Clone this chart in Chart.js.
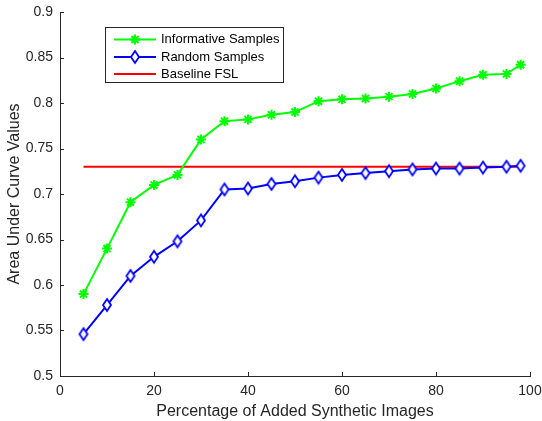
<!DOCTYPE html>
<html>
<head>
<meta charset="utf-8">
<script src="https://cdn.jsdelivr.net/npm/chart.js@4.4.1/dist/chart.umd.min.js"></script>
<style>
  html, body { margin: 0; padding: 0; background: #fff; }
  #wrap { width: 542px; height: 421px; position: relative; }
</style>
</head>
<body>
<div id="wrap"><canvas id="c" width="542" height="421"></canvas></div>
<script>
// ---- data ----
const xPct = [5, 10, 15, 20, 25, 30, 35, 40, 45, 50, 55, 60, 65, 70, 75, 80, 85, 90, 95, 98];
const informative = [0.590, 0.640, 0.691, 0.710, 0.721, 0.760, 0.780, 0.782, 0.787, 0.790, 0.802, 0.804, 0.805, 0.807, 0.810, 0.816, 0.824, 0.831, 0.832, 0.842];
const randomSamples = [0.546, 0.578, 0.610, 0.631, 0.648, 0.671, 0.705, 0.706, 0.711, 0.714, 0.718, 0.721, 0.723, 0.725, 0.727, 0.728, 0.728, 0.729, 0.730, 0.731];
const baselineX = [5, 98];
const baselineY = [0.73, 0.73];
const seriesLabels = ['Informative Samples', 'Random Samples', 'Baseline FSL'];
const xTicks = [0, 20, 40, 60, 80, 100];
const yTicks = [0.5, 0.55, 0.6, 0.65, 0.7, 0.75, 0.8, 0.85, 0.9];

const FONT = "'Liberation Sans', Arial, Helvetica, sans-serif";
const AX = '#262626';

function diamond(color) {
  const w = 12, h = 16;
  const cv = document.createElement('canvas');
  cv.width = w; cv.height = h;
  const g = cv.getContext('2d');
  g.beginPath();
  g.moveTo(w / 2, 2); g.lineTo(w - 2, h / 2); g.lineTo(w / 2, h - 2); g.lineTo(2, h / 2); g.closePath();
  g.fillStyle = '#fff'; g.fill();
  g.lineWidth = 1.8; g.strokeStyle = color; g.stroke();
  return cv;
}
const diamondImg = diamond('#0000ff');

const toXY = (xs, ys) => xs.map((x, i) => ({ x: x, y: ys[i] }));

const tickPlugin = {
  id: 'inTicks',
  afterDraw(chart) {
    const ctx = chart.ctx, xs = chart.scales.x, ys = chart.scales.y, a = chart.chartArea;
    ctx.save();
    ctx.strokeStyle = AX; ctx.lineWidth = 1;
    ctx.beginPath();
    xTicks.forEach(v => { const p = Math.round(xs.getPixelForValue(v)) + 0.5; ctx.moveTo(p, a.bottom); ctx.lineTo(p, a.bottom - 4); });
    yTicks.forEach(v => { const p = Math.round(ys.getPixelForValue(v)) + 0.5; ctx.moveTo(a.left, p); ctx.lineTo(a.left + 4, p); });
    ctx.stroke();
    ctx.restore();
  }
};

const legendPlugin = {
  id: 'boxLegend',
  afterDraw(chart) {
    const ctx = chart.ctx;
    const bx = 105.5, by = 27.5, bw = 178, bh = 55;
    ctx.save();
    ctx.fillStyle = '#fff'; ctx.fillRect(bx, by, bw, bh);
    ctx.strokeStyle = AX; ctx.lineWidth = 1; ctx.strokeRect(bx, by, bw, bh);
    const rows = [39.5, 57, 74];
    chart.data.datasets.forEach((ds, i) => {
      const y = rows[i];
      ctx.strokeStyle = ds.borderColor; ctx.lineWidth = 2;
      ctx.beginPath(); ctx.moveTo(114, y); ctx.lineTo(156, y); ctx.stroke();
      if (ds.pointStyle && ds.pointRadius > 0) {
        ctx.strokeStyle = ds.borderColor; ctx.lineWidth = ds.pointBorderWidth || 2;
        Chart.helpers.drawPoint(ctx, { pointStyle: ds.pointStyle, radius: ds.pointRadius, borderWidth: ds.pointBorderWidth, rotation: 0 }, 135, y);
      }
      ctx.fillStyle = '#000'; ctx.font = '13px ' + FONT; ctx.textBaseline = 'middle'; ctx.textAlign = 'left';
      ctx.fillText(ds.label, 161, y);
    });
    ctx.restore();
  }
};

new Chart(document.getElementById('c'), {
  type: 'line',
  data: {
    datasets: [
      { label: seriesLabels[0], data: toXY(xPct, informative), borderColor: '#00ff00', backgroundColor: '#00ff00',
        borderWidth: 2, pointStyle: 'star', pointRadius: 5, pointBorderWidth: 2, pointBorderColor: '#00ff00', tension: 0 },
      { label: seriesLabels[1], data: toXY(xPct, randomSamples), borderColor: '#0000ff', backgroundColor: '#fff',
        borderWidth: 2, pointStyle: diamondImg, pointRadius: 6, tension: 0 },
      { label: seriesLabels[2], data: toXY(baselineX, baselineY), borderColor: '#ff0000',
        borderWidth: 2, pointRadius: 0, tension: 0 }
    ]
  },
  options: {
    responsive: false,
    animation: false,
    devicePixelRatio: 1,
    layout: { padding: { left: 5, right: 0, top: 12, bottom: 0 } },
    plugins: { legend: { display: false }, tooltip: { enabled: false } },
    scales: {
      x: {
        type: 'linear', min: 0, max: 100,
        afterBuildTicks: s => { s.ticks = xTicks.map(v => ({ value: v })); },
        afterFit: s => { s.height = 45; s.paddingRight = 12; s.paddingLeft = 0; },
        grid: { drawOnChartArea: false, drawTicks: false },
        border: { color: AX, width: 1 },
        ticks: { color: AX, font: { family: FONT, size: 14 }, padding: 7, maxRotation: 0, callback: v => String(v) },
        title: { display: true, text: 'Percentage of Added Synthetic Images', color: AX, font: { family: FONT, size: 16 }, padding: { top: 0, bottom: 0 } }
      },
      y: {
        type: 'linear', min: 0.5, max: 0.9,
        afterBuildTicks: s => { s.ticks = yTicks.map(v => ({ value: v })); },
        afterFit: s => { s.width = 55; s.paddingTop = 0; s.paddingBottom = 0; },
        grid: { drawOnChartArea: false, drawTicks: false },
        border: { color: AX, width: 1 },
        ticks: { color: AX, font: { family: FONT, size: 14 }, padding: 7, callback: v => String(parseFloat(v.toFixed(2))) },
        title: { display: true, text: 'Area Under Curve Values', color: AX, font: { family: FONT, size: 16 }, padding: { top: 0, bottom: 0 } }
      }
    }
  },
  plugins: [tickPlugin, legendPlugin]
});
</script>
</body>
</html>
